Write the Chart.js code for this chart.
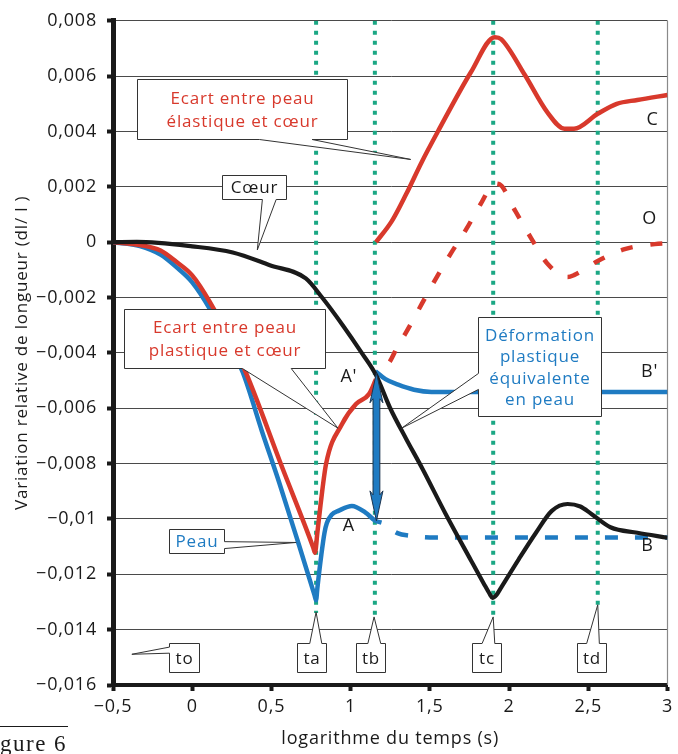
<!DOCTYPE html>
<html><head><meta charset="utf-8">
<script src="https://cdn.jsdelivr.net/npm/chart.js@4"></script>
<style>html,body{margin:0;padding:0;background:#fff}canvas{display:block}</style>
</head><body>
<canvas id="c" width="678" height="754"></canvas>
<script>
// ---------- data ----------
const xTicks = [-0.5, 0, 0.5, 1, 1.5, 2, 2.5, 3];
const xTickLabels = ['−0,5', '0', '0,5', '1', '1,5', '2', '2,5', '3'];
const yTicks = [-0.016, -0.014, -0.012, -0.01, -0.008, -0.006, -0.004, -0.002, 0, 0.002, 0.004, 0.006, 0.008];
const yTickLabels = ['−0,016', '−0,014', '−0,012', '−0,01', '−0,008', '−0,006', '−0,004', '−0,002', '0', '0,002', '0,004', '0,006', '0,008'];

// Cœur (black)
const coeurX = [-0.5, -0.35, 0, 0.256, 0.49, 0.717, 0.82, 0.95, 1.07, 1.16, 1.25, 1.35, 1.45, 1.6, 1.76, 1.84, 1.88, 1.895, 1.92, 1.95, 2.06, 2.17, 2.27, 2.37, 2.45, 2.52, 2.64, 2.81, 3.0];
const coeurY = [0, 0.00001, -0.00015, -0.00037, -0.00083, -0.00131, -0.002, -0.003, -0.004, -0.0048, -0.006, -0.0071, -0.00815, -0.00982, -0.0115, -0.01233, -0.01273, -0.01285, -0.01275, -0.01248, -0.01147, -0.0105, -0.00971, -0.00946, -0.00955, -0.00982, -0.0103, -0.0105, -0.01068];

// Peau (blue, solid until tb)
const peauX = [-0.5, -0.33, -0.2, -0.1, 0, 0.11, 0.317, 0.44, 0.55, 0.675, 0.772, 0.782, 0.79, 0.815, 0.835, 0.85, 0.88, 0.926, 1.008, 1.094, 1.157, 1.195];
const peauY = [0, -0.00014, -0.00045, -0.0009, -0.00145, -0.0024, -0.00467, -0.00683, -0.0087, -0.01096, -0.01275, -0.01294, -0.0125, -0.0113, -0.0105, -0.01015, -0.00985, -0.0097, -0.00953, -0.00977, -0.01007, -0.01013];

// Peau after tb (blue dashed, B)
const peauDashX = [1.195, 1.30, 1.37, 1.5, 3.0];
const peauDashY = [-0.01013, -0.01052, -0.0106, -0.01067, -0.01067];

// Déformation plastique équivalente en peau (blue, B')
const peauPlastX = [1.157, 1.22, 1.30, 1.40, 1.51, 3.0];
const peauPlastY = [-0.00466, -0.00495, -0.00515, -0.00533, -0.00541, -0.00541];

// Ecart entre peau plastique et cœur (red, until tb)
const plastX = [-0.5, -0.33, -0.2, -0.1, 0, 0.11, 0.317, 0.57, 0.765, 0.775, 0.79, 0.81, 0.845, 0.946, 1.034, 1.116, 1.16];
const plastY = [0, -0.0001, -0.0003, -0.00071, -0.0012, -0.00215, -0.00442, -0.00817, -0.01105, -0.01122, -0.0105, -0.0095, -0.00801, -0.00657, -0.00585, -0.00549, -0.00495];

// Ecart entre peau élastique et cœur (red solid, C)
const elastX = [1.16, 1.26, 1.35, 1.45, 1.55, 1.76, 1.91, 1.95, 2.10, 2.24, 2.35, 2.41, 2.56, 2.68, 2.81, 3.0];
const elastY = [0, 0.00076, 0.00173, 0.00291, 0.00399, 0.00615, 0.00741, 0.00734, 0.00604, 0.00471, 0.0041, 0.0041, 0.00464, 0.005, 0.00514, 0.00532];

// red dashed (O)
const elastDashX = [1.16, 1.24, 1.30, 1.35, 1.45, 1.53, 1.63, 1.73, 1.82, 1.91, 1.94, 2.04, 2.14, 2.24, 2.37, 2.41, 2.56, 2.73, 2.92, 3.0];
const elastDashY = [-0.00472, -0.00438, -0.00373, -0.00326, -0.00222, -0.0014, -0.00043, 0.00047, 0.00137, 0.00212, 0.00209, 0.00112, 0.00014, -0.00076, -0.00126, -0.00119, -0.00068, -0.00025, -0.00007, -0.00004];

// time markers
const tNames = ['ta', 'tb', 'tc', 'td'];
const tValues = [0.782, 1.153, 1.9, 2.56];
const tLineTop = 0.008;
const tLineBottoms = [-0.0134, -0.01355, -0.01355, -0.0131];

// ---------- styles ----------
const RED = '#d8392c', BLUE = '#1f7bc2', BLACK = '#1a1a1a', GREEN = '#1ba784', GRID = '#4a4a4a';
const FONT = "'Open Sans', sans-serif";

function pts(xs, ys) { return xs.map((x, i) => ({ x: x, y: ys[i] })); }

function lineDs(data, color, extra) {
  return Object.assign({
    data: data, borderColor: color, borderWidth: 4.5, pointRadius: 0, fill: false,
    cubicInterpolationMode: 'monotone', borderCapStyle: 'butt', borderJoinStyle: 'round'
  }, extra || {});
}

const datasets = [];
tValues.forEach((t, i) => {
  datasets.push(lineDs(pts([t, t], [tLineTop, tLineBottoms[i]]), GREEN,
    { borderWidth: 4, borderDash: [4, 6], order: 20, cubicInterpolationMode: 'default', tension: 0 }));
});
datasets.push(lineDs(pts(peauX, peauY), BLUE, { order: 6 }));
datasets.push(lineDs(pts(peauDashX, peauDashY), BLUE, { order: 6, borderDash: [13, 17], borderDashOffset: 13 }));
datasets.push(lineDs(pts(peauPlastX, peauPlastY), BLUE, { order: 6 }));
datasets.push(lineDs(pts(plastX, plastY), RED, { order: 5 }));
datasets.push(lineDs(pts(elastX, elastY), RED, { order: 5 }));
datasets.push(lineDs(pts(elastDashX, elastDashY), RED, { order: 5, borderDash: [12, 18], borderDashOffset: 12 }));
datasets.push(lineDs(pts(coeurX, coeurY), BLACK, { order: 1, borderWidth: 4.2 }));

// ---------- annotations (data coordinates) ----------
const callouts = [
  { lines: ['Ecart entre peau', 'élastique et cœur'], color: RED, box: [-0.349, 0.977, 0.00588, 0.00372], edge: 'bottom', p: [0.424, 0.757], apex: [1.379, 0.00299] },
  { lines: ['Cœur'], color: BLACK, box: [0.186, 0.595, 0.00242, 0.00156], edge: 'bottom', p: [0.443, 0.53], apex: [0.411, -0.00028] },
  { lines: ['Ecart entre peau', 'plastique et cœur'], color: RED, box: [-0.43, 0.838, -0.0024, -0.00456], edge: 'bottom', p: [0.317, 0.625], apex: [0.92, -0.00672] },
  { lines: ['Déformation', 'plastique', 'équivalente', 'en peau'], color: BLUE, box: [1.806, 2.579, -0.00269, -0.00629], edge: 'left', p: [-0.00474, -0.00532], apex: [1.322, -0.00672] },
  { lines: ['Peau'], color: BLUE, box: [-0.148, 0.198, -0.01035, -0.01122], edge: 'right', p: [-0.01082, -0.01107], apex: [0.656, -0.01085] },
  { lines: ['to'], color: BLACK, box: [-0.148, 0.04, -0.01449, -0.01553], edge: 'left', p: [-0.01463, -0.01485], apex: [-0.381, -0.01489] },
  { lines: ['ta'], color: BLACK, box: [0.662, 0.844, -0.01449, -0.01553], edge: 'top', p: [0.742, 0.818], apex: [0.782, -0.01337] },
  { lines: ['tb'], color: BLACK, box: [1.031, 1.22, -0.01449, -0.01553], edge: 'top', p: [1.109, 1.19], apex: [1.148, -0.01354] },
  { lines: ['tc'], color: BLACK, box: [1.768, 1.95, -0.01449, -0.01553], edge: 'top', p: [1.83, 1.91], apex: [1.9, -0.01354] },
  { lines: ['td'], color: BLACK, box: [2.428, 2.61, -0.01449, -0.01553], edge: 'top', p: [2.49, 2.57], apex: [2.56, -0.0131] }
];
const pointLabels = [
  { text: "A'", x: 0.989, y: -0.00485 },
  { text: 'A', x: 0.989, y: -0.01024 },
  { text: "B'", x: 2.887, y: -0.00467 },
  { text: 'B', x: 2.874, y: -0.01097 },
  { text: 'C', x: 2.906, y: 0.00443 },
  { text: 'O', x: 2.887, y: 0.00084 }
];
const arrow = { x: 1.163, yTop: -0.00472, yBottom: -0.01007 };

const LS = '0.8px';
const spacingPlugin = {
  id: 'spacing',
  beforeUpdate(c) { c.ctx.letterSpacing = LS; },
  beforeLayout(c) { c.ctx.letterSpacing = LS; },
  beforeDraw(c) { c.ctx.letterSpacing = LS; }
};

const annotPlugin = {
  id: 'annot',
  beforeDatasetsDraw(chart) {
    const ctx = chart.ctx, a = chart.chartArea;
    ctx.save();
    ctx.strokeStyle = '#8a8a8a';
    ctx.lineWidth = 1.2;
    ctx.beginPath();
    ctx.moveTo(Math.round(a.right) + 0.5, a.top);
    ctx.lineTo(Math.round(a.right) + 0.5, a.bottom);
    ctx.stroke();
    ctx.restore();
  },
  afterDatasetsDraw(chart) {
    const ctx = chart.ctx, xs = chart.scales.x, ys = chart.scales.y;
    const X = v => xs.getPixelForValue(v), Y = v => ys.getPixelForValue(v);
    ctx.save();
    ctx.letterSpacing = LS;

    // double arrow
    const ax = X(arrow.x), t = Y(arrow.yTop), b = Y(arrow.yBottom);
    const hl = 30, hw = 6.5, sw = 3.4;
    ctx.beginPath();
    ctx.moveTo(ax, t);
    ctx.lineTo(ax + hw, t + hl);
    ctx.lineTo(ax + sw, t + hl - 4);
    ctx.lineTo(ax + sw, b - hl + 4);
    ctx.lineTo(ax + hw, b - hl);
    ctx.lineTo(ax, b);
    ctx.lineTo(ax - hw, b - hl);
    ctx.lineTo(ax - sw, b - hl + 4);
    ctx.lineTo(ax - sw, t + hl - 4);
    ctx.lineTo(ax - hw, t + hl);
    ctx.closePath();
    ctx.fillStyle = BLUE;
    ctx.fill();
    ctx.strokeStyle = '#1d3550';
    ctx.lineWidth = 1;
    ctx.stroke();

    // callouts
    callouts.forEach(c => {
      const L = Math.round(X(c.box[0])) + 0.5, R = Math.round(X(c.box[1])) + 0.5;
      const T = Math.round(Y(c.box[2])) + 0.5, B = Math.round(Y(c.box[3])) + 0.5;
      const AX = X(c.apex[0]), AY = Y(c.apex[1]);
      let p1, p2;
      if (c.edge === 'top' || c.edge === 'bottom') { p1 = X(c.p[0]); p2 = X(c.p[1]); }
      else { p1 = Y(c.p[0]); p2 = Y(c.p[1]); }
      if (p1 > p2) { const tmp = p1; p1 = p2; p2 = tmp; }
      ctx.beginPath();
      ctx.moveTo(L, T);
      if (c.edge === 'top') { ctx.lineTo(p1, T); ctx.lineTo(AX, AY); ctx.lineTo(p2, T); }
      ctx.lineTo(R, T);
      if (c.edge === 'right') { ctx.lineTo(R, p1); ctx.lineTo(AX, AY); ctx.lineTo(R, p2); }
      ctx.lineTo(R, B);
      if (c.edge === 'bottom') { ctx.lineTo(p2, B); ctx.lineTo(AX, AY); ctx.lineTo(p1, B); }
      ctx.lineTo(L, B);
      if (c.edge === 'left') { ctx.lineTo(L, p2); ctx.lineTo(AX, AY); ctx.lineTo(L, p1); }
      ctx.closePath();
      ctx.fillStyle = '#fff';
      ctx.fill();
      ctx.strokeStyle = '#333';
      ctx.lineWidth = 1;
      ctx.stroke();
      ctx.fillStyle = c.color;
      ctx.font = '17px ' + FONT;
      ctx.textAlign = 'center';
      ctx.textBaseline = 'middle';
      const lh = c.lines.length > 2 ? 21.5 : 23;
      const cx = (L + R) / 2, cy = (T + B) / 2 + 1;
      c.lines.forEach((ln, i) => {
        ctx.fillText(ln, cx, cy + (i - (c.lines.length - 1) / 2) * lh);
      });
    });

    // point labels
    ctx.fillStyle = BLACK;
    ctx.font = '18px ' + FONT;
    ctx.textAlign = 'center';
    ctx.textBaseline = 'middle';
    pointLabels.forEach(p => ctx.fillText(p.text, X(p.x), Y(p.y)));

    // cropped figure caption
    ctx.strokeStyle = BLACK;
    ctx.lineWidth = 1;
    ctx.beginPath();
    ctx.moveTo(0, 726.5);
    ctx.lineTo(68, 726.5);
    ctx.stroke();
    ctx.font = "23px 'Liberation Serif', serif";
    ctx.textAlign = 'left';
    ctx.textBaseline = 'alphabetic';
    ctx.letterSpacing = '1.5px';
    ctx.fillText('gure 6', 0, 751);
    ctx.restore();
  }
};

Chart.defaults.font.family = FONT;
Chart.defaults.color = BLACK;

new Chart(document.getElementById('c'), {
  type: 'line',
  data: { datasets: datasets },
  options: {
    responsive: false,
    devicePixelRatio: 1,
    animation: false,
    layout: { padding: { left: 0, right: 8, top: 18, bottom: 0 } },
    plugins: { legend: { display: false }, tooltip: { enabled: false } },
    scales: {
      x: {
        type: 'linear', min: -0.5, max: 3,
        afterBuildTicks: s => { s.ticks = xTicks.map(v => ({ value: v })); },
        afterFit: s => { s.height = 69; },
        ticks: { autoSkip: false, maxRotation: 0, padding: 5, font: { size: 18 }, color: BLACK,
          callback: (v, i) => xTickLabels[i] },
        grid: { drawOnChartArea: false, drawTicks: true, tickLength: 6, tickWidth: 4, tickColor: BLACK },
        border: { display: true, color: BLACK, width: 4 },
        title: { display: true, text: 'logarithme du temps (s)', font: { size: 18 }, color: BLACK, padding: { top: 0, bottom: 4 } }
      },
      y: {
        type: 'linear', min: -0.016, max: 0.008,
        afterBuildTicks: s => { s.ticks = yTicks.map(v => ({ value: v })); },
        afterFit: s => { s.width = 113; },
        ticks: { autoSkip: false, padding: 10, font: { size: 18 }, color: BLACK,
          callback: (v, i) => yTickLabels[i] },
        grid: { color: GRID, lineWidth: 1, drawTicks: true, tickLength: 6, tickWidth: 4, tickColor: BLACK },
        border: { display: true, color: BLACK, width: 5 },
        title: { display: true, text: 'Variation relative de longueur (dl/ l )', font: { size: 17 }, color: BLACK, padding: { top: 12, bottom: 0 } }
      }
    }
  },
  plugins: [spacingPlugin, annotPlugin]
});
</script>
</body></html>
